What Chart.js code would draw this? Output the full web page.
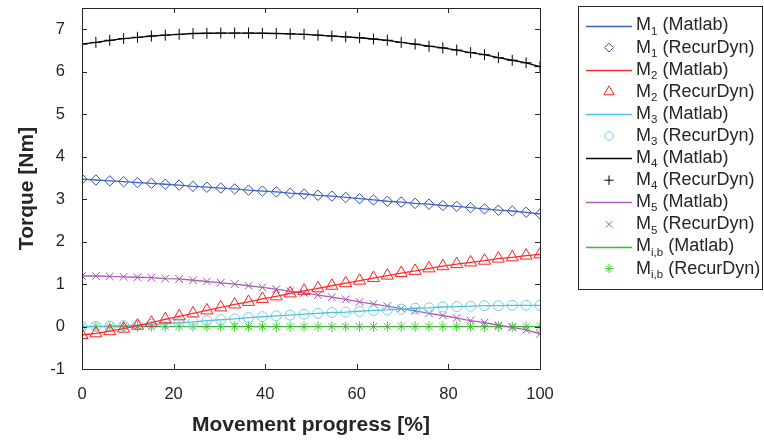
<!DOCTYPE html>
<html>
<head>
<meta charset="utf-8">
<title>Torque vs movement progress</title>
<script src="https://cdn.jsdelivr.net/npm/chart.js@4.4.1/dist/chart.umd.min.js"></script>
<style>
  html, body { margin: 0; padding: 0; background: #fff; }
</style>
</head>
<body>
<canvas id="torqueChart" width="764" height="441"></canvas>
<script>
// values
const progress = [0, 3.03, 6.06, 9.09, 12.12, 15.15, 18.18, 21.21, 24.24, 27.27, 30.30, 33.33,
  36.36, 39.39, 42.42, 45.45, 48.48, 51.52, 54.55, 57.58, 60.61, 63.64, 66.67, 69.70,
  72.73, 75.76, 78.79, 81.82, 84.85, 87.88, 90.91, 93.94, 96.97, 100];

const m1 = [3.47, 3.45, 3.43, 3.41, 3.39, 3.37, 3.35, 3.33, 3.30, 3.28, 3.26, 3.24, 3.21, 3.19, 3.17, 3.14,
  3.12, 3.09, 3.07, 3.04, 3.01, 2.98, 2.95, 2.93, 2.90, 2.88, 2.85, 2.83, 2.80, 2.77, 2.74, 2.72, 2.69, 2.65];
const m2 = [-0.20, -0.16, -0.11, -0.05, 0.02, 0.09, 0.17, 0.24, 0.31, 0.38, 0.45, 0.52, 0.58, 0.65, 0.71, 0.78,
  0.84, 0.90, 0.96, 1.02, 1.08, 1.14, 1.20, 1.26, 1.31, 1.37, 1.42, 1.47, 1.51, 1.55, 1.60, 1.63, 1.67, 1.70];
const m3 = [0.00, 0.005, 0.01, 0.02, 0.035, 0.05, 0.07, 0.09, 0.11, 0.14, 0.16, 0.18, 0.21, 0.23, 0.25, 0.27,
  0.29, 0.31, 0.33, 0.34, 0.36, 0.38, 0.39, 0.41, 0.43, 0.44, 0.46, 0.47, 0.48, 0.49, 0.49, 0.50, 0.50, 0.50];
const m4 = [6.65, 6.69, 6.74, 6.78, 6.81, 6.84, 6.86, 6.88, 6.90, 6.905, 6.91, 6.91, 6.91, 6.905, 6.90, 6.89,
  6.88, 6.86, 6.84, 6.82, 6.80, 6.77, 6.74, 6.69, 6.65, 6.60, 6.56, 6.51, 6.45, 6.40, 6.33, 6.27, 6.21, 6.12];
const m5 = [1.19, 1.19, 1.18, 1.17, 1.16, 1.15, 1.13, 1.12, 1.09, 1.06, 1.03, 1.00, 0.96, 0.92, 0.88, 0.83,
  0.79, 0.74, 0.69, 0.64, 0.58, 0.53, 0.48, 0.42, 0.37, 0.31, 0.26, 0.20, 0.14, 0.09, 0.03, -0.02, -0.08, -0.17];
const mib = [0, 0, 0, 0, 0, 0, 0, 0, 0, 0, 0, 0, 0, 0, 0, 0,
  0, 0, 0, 0, 0, 0, 0, 0, 0, 0, 0, 0, 0, 0, 0, 0, 0, 0];

const xTicks = [0, 20, 40, 60, 80, 100];
const yTicks = [-1, 0, 1, 2, 3, 4, 5, 6, 7];

const seriesNames = ['1', '2', '3', '4', '5', 'i,b'];
const seriesValues = [m1, m2, m3, m4, m5, mib];

// styles for each series: line colour, marker colour, marker style, marker size
const lineColors = ['#3f62c4', '#ff2a2a', '#4ec3dc', '#000000', '#a860b4', '#3fb833'];
const markColors = ['#2f4fb8', '#ff2020', '#6fd0e6', '#000000', '#a050b0', '#4cc83c'];
const markStyles = ['rectRot', 'triangle', 'circle', 'cross', 'crossRot', 'star'];
const markSizes = [5.2, 7, 5, 5.5, 5.4, 5.2];

const axisColor = '#262626';
const fontFamily = '"Liberation Sans", Arial, Helvetica, sans-serif';

function toPoints(values) {
    return values.map((v, i) => ({ x: progress[i], y: v }));
}

const datasets = [];
seriesValues.forEach((values, i) => {
    datasets.push({
        type: 'line',
        label: 'M' + seriesNames[i] + ' (Matlab)',
        sub: seriesNames[i],
        tool: ' (Matlab)',
        data: toPoints(values),
        borderColor: lineColors[i],
        borderWidth: 1.3,
        pointRadius: 0,
        showLine: true,
        tension: 0
    });
    datasets.push({
        type: 'scatter',
        label: 'M' + seriesNames[i] + ' (RecurDyn)',
        sub: seriesNames[i],
        tool: ' (RecurDyn)',
        data: toPoints(values),
        borderColor: markColors[i],
        backgroundColor: 'rgba(0,0,0,0)',
        pointStyle: markStyles[i],
        pointRadius: markSizes[i],
        pointBorderWidth: 1,
        showLine: false
    });
});

// box round the plot with inward tick marks, like the matlab axes
const axesBox = {
    id: 'axesBox',
    afterDraw(chart) {
        const ctx = chart.ctx;
        const a = chart.chartArea;
        const xs = chart.scales.x, ys = chart.scales.y;
        const len = 5;
        ctx.save();
        ctx.strokeStyle = axisColor;
        ctx.lineWidth = 1;
        ctx.strokeRect(Math.round(a.left) + 0.5, Math.round(a.top) + 0.5,
            Math.round(a.right - a.left), Math.round(a.bottom - a.top));
        ctx.beginPath();
        xTicks.forEach(v => {
            const px = Math.round(xs.getPixelForValue(v)) + 0.5;
            ctx.moveTo(px, a.bottom); ctx.lineTo(px, a.bottom - len);
            ctx.moveTo(px, a.top); ctx.lineTo(px, a.top + len);
        });
        yTicks.forEach(v => {
            const py = Math.round(ys.getPixelForValue(v)) + 0.5;
            ctx.moveTo(a.left, py); ctx.lineTo(a.left + len, py);
            ctx.moveTo(a.right, py); ctx.lineTo(a.right - len, py);
        });
        ctx.stroke();
        ctx.restore();
    }
};

// legend drawn by hand so the subscripts come out right
const legendBox = {
    id: 'legendBox',
    afterDraw(chart) {
        const ctx = chart.ctx;
        ctx.save();
        ctx.strokeStyle = axisColor;
        ctx.lineWidth = 1;
        ctx.strokeRect(578.5, 6.5, 184, 283);
        chart.data.datasets.forEach((ds, i) => {
            const y = 25.5 + i * 22.1;
            if (ds.showLine) {
                ctx.strokeStyle = ds.borderColor;
                ctx.lineWidth = 1.3;
                ctx.beginPath();
                ctx.moveTo(586, Math.round(y) + 0.5);
                ctx.lineTo(632, Math.round(y) + 0.5);
                ctx.stroke();
            } else {
                ctx.strokeStyle = ds.borderColor;
                ctx.fillStyle = 'rgba(0,0,0,0)';
                ctx.lineWidth = 1;
                Chart.helpers.drawPoint(ctx, {
                    pointStyle: ds.pointStyle,
                    radius: ds.pointRadius * 0.85,
                    rotation: 0,
                    borderWidth: 1
                }, 609, y);
            }
            ctx.fillStyle = axisColor;
            ctx.textBaseline = 'middle';
            ctx.textAlign = 'left';
            let x = 636;
            ctx.font = '18px ' + fontFamily;
            ctx.fillText('M', x, y);
            x += ctx.measureText('M').width;
            ctx.font = '11.5px ' + fontFamily;
            ctx.fillText(ds.sub, x, y + 6);
            x += ctx.measureText(ds.sub).width;
            ctx.font = '18px ' + fontFamily;
            ctx.fillText(ds.tool, x, y);
        });
        ctx.restore();
    }
};

const ctx = document.getElementById('torqueChart').getContext('2d');
const torqueChart = new Chart(ctx, {
    data: { datasets: datasets },
    options: {
        responsive: false,
        animation: false,
        devicePixelRatio: 1,
        layout: { padding: { top: 6, right: 224, left: 0, bottom: 0 } },
        plugins: {
            legend: { display: false },
            tooltip: { enabled: false }
        },
        scales: {
            x: {
                type: 'linear',
                min: 0,
                max: 100,
                afterBuildTicks: scale => { scale.ticks = xTicks.map(v => ({ value: v })); },
                afterFit: scale => {
                    scale.height = 72;
                    scale.paddingLeft = 0;
                    scale.paddingRight = 0;
                },
                grid: { display: false, drawTicks: false },
                border: { display: false },
                ticks: {
                    color: axisColor,
                    padding: 16,
                    maxRotation: 0,
                    font: { family: fontFamily, size: 16.5 }
                },
                title: {
                    display: true,
                    text: 'Movement progress [%]',
                    color: axisColor,
                    padding: { top: 0, bottom: 3 },
                    font: { family: fontFamily, size: 21, weight: 'bold' }
                }
            },
            y: {
                type: 'linear',
                min: -1,
                max: 7.5,
                afterBuildTicks: scale => { scale.ticks = yTicks.map(v => ({ value: v })); },
                afterFit: scale => {
                    scale.width = 82;
                    scale.paddingTop = 0;
                    scale.paddingBottom = 0;
                },
                grid: { display: false, drawTicks: false },
                border: { display: false },
                ticks: {
                    color: axisColor,
                    padding: 17,
                    font: { family: fontFamily, size: 16.5 }
                },
                title: {
                    display: true,
                    text: 'Torque [Nm]',
                    color: axisColor,
                    padding: { top: 15, bottom: 0 },
                    font: { family: fontFamily, size: 21, weight: 'bold' }
                }
            }
        }
    },
    plugins: [axesBox, legendBox]
});
</script>
</body>
</html>
